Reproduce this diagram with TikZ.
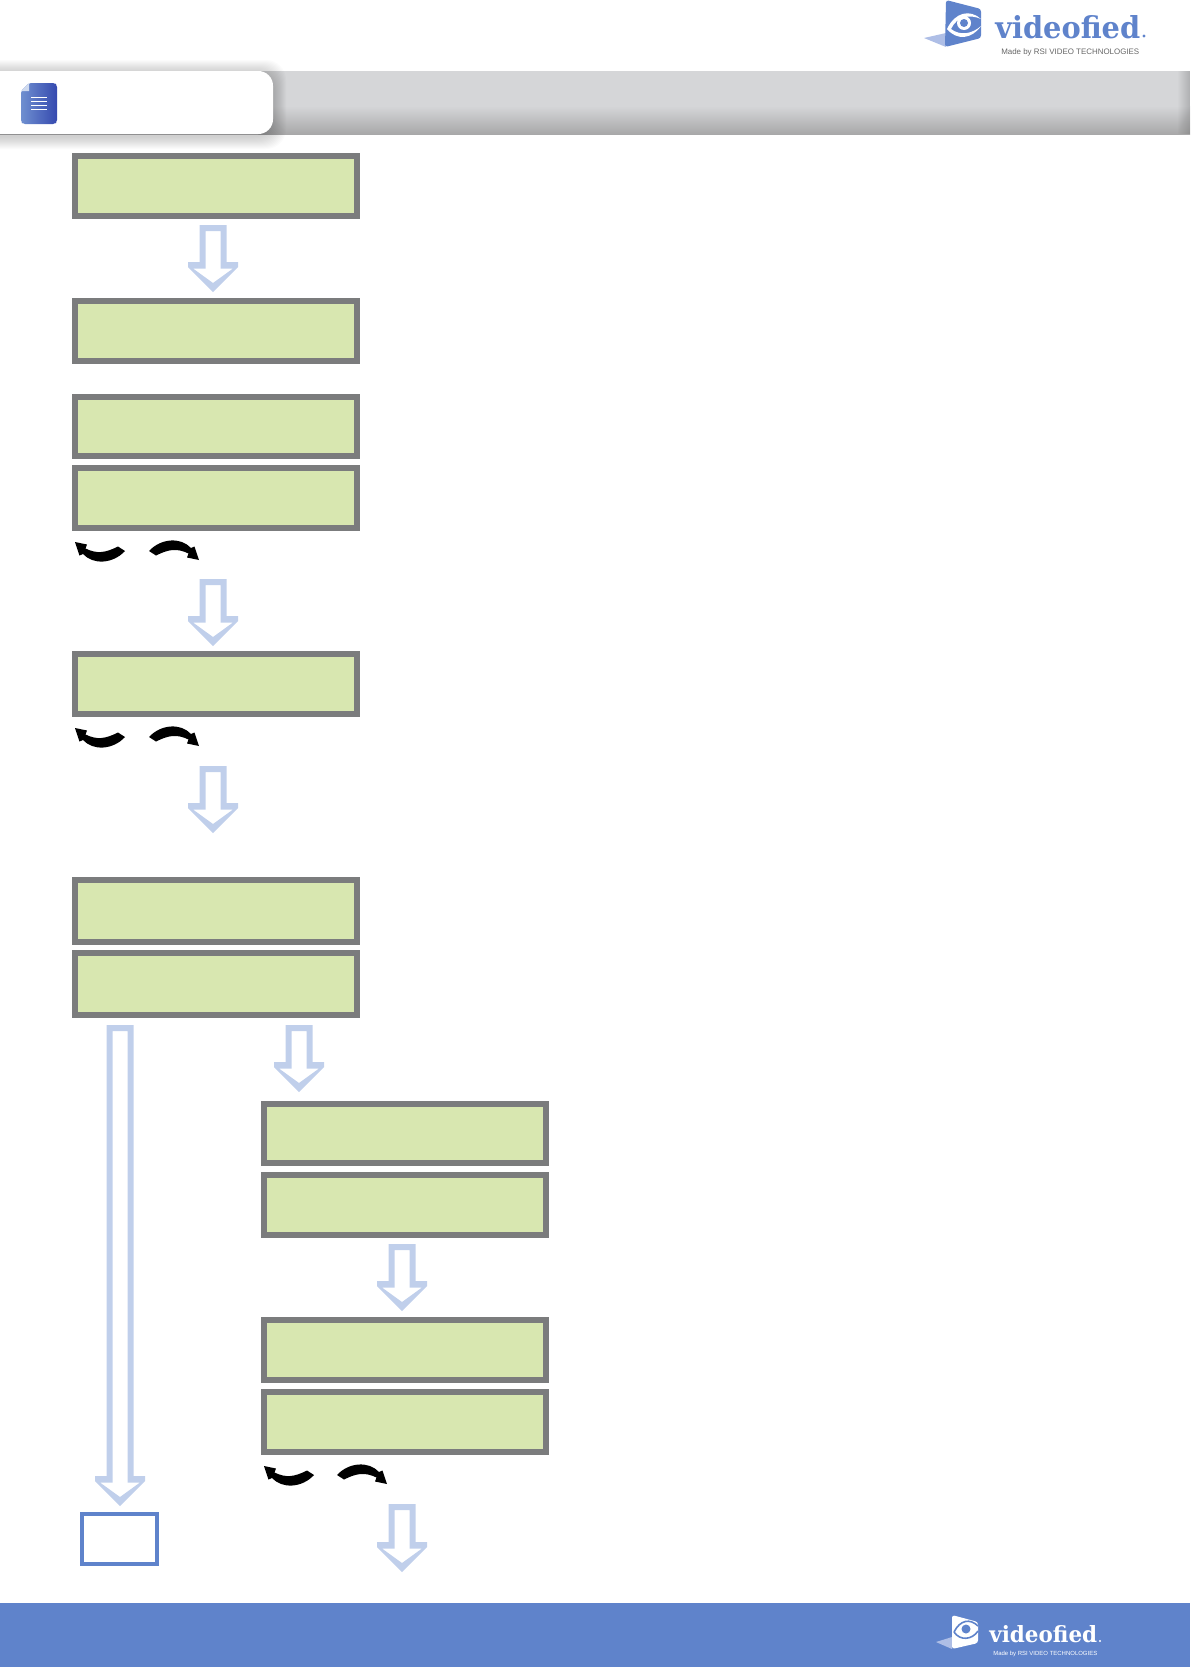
\documentclass[tikz,border=0pt]{standalone}
\usepackage{fontspec}
\setmainfont{Liberation Sans}
\newfontfamily\logofont{DejaVu Serif}
\definecolor{lcdfill}{HTML}{D8E7B0}
\definecolor{lcdedge}{HTML}{7B7C7D}
\definecolor{arrowblue}{HTML}{C0CFEB}
\definecolor{brandblue}{HTML}{5F83CB}
\definecolor{brandlight}{HTML}{AEBEE6}
\definecolor{bargrey}{HTML}{D5D6D8}
\definecolor{bardark}{HTML}{A8A8A9}
\tikzset{
  lcd/.style={draw=lcdedge,fill=lcdfill,line width=4.5pt,inner sep=0pt,outer sep=0pt,
    minimum width=211.5pt,minimum height=#1*.75pt},
  lcd/.default=59.5,
  endbox/.style={draw=brandblue,line width=3pt,fill=white,inner sep=0pt,outer sep=0pt,
    minimum width=56.25pt,minimum height=37.5pt},
  blockfill/.style={fill=arrowblue,even odd rule},
  turnfill/.style={fill=black},
}
\newcommand{\blockarrow}[2]{%
  \begin{scope}[shift={(#1)}]
    \path[blockfill]
      (-13.5,0)--(13.5,0)--(13.5,#2-30)--(25,#2-30)--(25,#2-25)--(0,#2)--(-25,#2-25)--(-25,#2-30)--(-13.5,#2-30)--cycle
      (-7.5,6)--(7.5,6)--(7.5,#2-23.5)--(20,#2-23.5)--(0,#2-9)--(-20,#2-23.5)--(-7.5,#2-23.5)--cycle;
  \end{scope}}
\newcommand{\turnshape}{(0,0)--(12,2.5)--(10.5,6.5) .. controls (22,12) and (30,11) .. (43,4.5)--(50,9) .. controls (38,22) and (18,23) .. (8,12)--(4.5,13.5)--cycle}
\newcommand{\turnpair}[2]{%
  \begin{scope}[shift={(#1)}]\path[turnfill] \turnshape;\end{scope}
  \begin{scope}[shift={(#2)},xscale=-1,yscale=-1]\path[turnfill] \turnshape;\end{scope}}
\begin{document}
\begin{tikzpicture}[x=.75pt,y=-.75pt]
\useasboundingbox (0,0) rectangle (1191,1667);
% header bar
\fill[bargrey] (0,71) rectangle (1190,106);
\shade[top color=bargrey,bottom color=bardark] (0,106) rectangle (1190,134);
\foreach \i in {0,...,11}{
  \fill[black,opacity=.012] (1178+\i,71) rectangle (1190,134);
}
% tab shadow
\foreach \i in {1,...,13}{
  \fill[black,opacity=.016,rounded corners=15pt] (-40,71+2-\i) rectangle (273+\i,134+2+\i);
}
\fill[white,rounded corners=11pt] (-40,71) rectangle (273,134);
% document icon
\shade[left color=brandblue!90!white,right color=brandblue!70!blue!80!black,rounded corners=1.5pt]
  (29,83)--(55,83)--(57,85)--(57,122)--(55,124)--(23,124)--(21,122)--(21,91)--cycle;
\fill[white!70!brandblue] (29,83)--(29,91)--(21,91)--cycle;
\foreach \y in {97.3,101.3,105.3,109.3}{\draw[white,line width=.7pt] (31,\y)--(47,\y);}
% top logo
\fill[brandlight] (924,38)--(946,33)--(946,47)--cycle;
\fill[brandblue,rounded corners=2pt] (946,0)--(981,9)--(981,38)--(945,47)--cycle;
\fill[white] (947,29) .. controls (955,12) and (970,9) .. (981,19) .. controls (970,14) and (957,16) .. (951,29) .. controls (960,36) and (972,34) .. (981,26) .. controls (972,39) and (957,41) .. (947,29)--cycle;
\fill[white] (964,23) circle (7);
\fill[brandblue] (964,23) circle (4);
\node[inner sep=0pt,anchor=base west] (topword) at (995,38) {\resizebox{108.75pt}{17.25pt}{\color{brandblue}\logofont\bfseries videofied}};
\fill[brandblue] (1144,36) circle (1.7);
\node[inner sep=0pt,anchor=base west,text=black!60] (topmade) at (1001,54) {\resizebox{103.5pt}{!}{Made by RSI VIDEO TECHNOLOGIES}};
% LCD column one
\node[lcd] (d1) at (216,186) {};
\node[lcd] (d2) at (216,331) {};
\node[lcd] (d3) at (216,426.5) {};
\node[lcd] (d4) at (216,498) {};
\node[lcd] (d5) at (216,684) {};
\node[lcd=62] (d6) at (216,911) {};
\node[lcd=62] (d7) at (216,984) {};
% LCD column two
\node[lcd] (e1) at (405,1133.5) {};
\node[lcd] (e2) at (405,1205) {};
\node[lcd] (e3) at (405,1350) {};
\node[lcd] (e4) at (405,1422) {};
\node[endbox] (stop) at (119.5,1539) {};
% block arrows
\coordinate (a1) at (213,225);
\coordinate (a2) at (213,579);
\coordinate (a3) at (213,766);
\coordinate (a4) at (120,1025);
\coordinate (a5) at (299,1025);
\coordinate (a6) at (402,1244);
\coordinate (a7) at (402,1504);
\blockarrow{a1}{67}
\blockarrow{a2}{67}
\blockarrow{a3}{67}
\blockarrow{a4}{481}
\blockarrow{a5}{67}
\blockarrow{a6}{67}
\blockarrow{a7}{68}
% turn arrows
\coordinate (t1) at (75,542);
\coordinate (t2) at (199,560);
\coordinate (t3) at (75,728);
\coordinate (t4) at (199,746);
\coordinate (t5) at (264,1466);
\coordinate (t6) at (387,1484);
\turnpair{t1}{t2}
\turnpair{t3}{t4}
\turnpair{t5}{t6}
% footer
\fill[brandblue] (0,1603) rectangle (1190,1667);
\fill[brandlight] (936,1642)--(952,1637)--(952,1649)--cycle;
\fill[white,rounded corners=2pt] (952,1615)--(978,1622)--(978,1643)--(952,1649)--cycle;
\draw[brandblue,line width=1.2pt] (954,1632) .. controls (960,1620) and (970,1618) .. (978,1626);
\draw[brandblue,line width=1.2pt] (954,1632) .. controls (960,1641) and (972,1640) .. (978,1631);
\fill[brandblue] (966,1629) circle (4.5);
\node[inner sep=0pt,anchor=base west] (botword) at (989,1642) {\resizebox{81pt}{12.75pt}{\color{white}\logofont\bfseries videofied}};
\fill[white] (1100,1641) circle (1.2);
\node[inner sep=0pt,anchor=base west] (botmade) at (993,1655) {\resizebox{78pt}{!}{\color{white}Made by RSI VIDEO TECHNOLOGIES}};
\end{tikzpicture}
\end{document}
